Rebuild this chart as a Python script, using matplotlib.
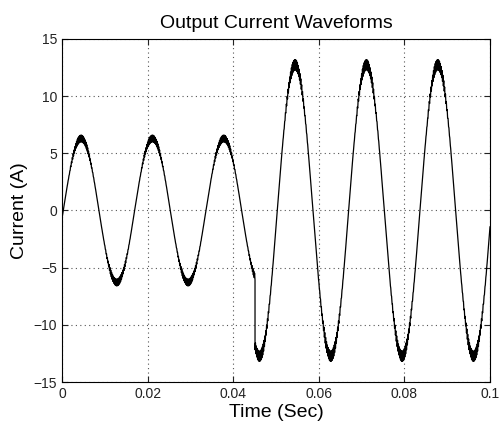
import numpy as np
import matplotlib.pyplot as plt

# waveform: 60 Hz current, amplitude steps up at ~0.045 s
seg_start = [0.0, 0.0451]       # s
seg_amp = [6.3, 12.75]          # A, peak of the fundamental
seg_ripple = [0.3, 0.45]        # A, switching ripple at the peaks
f_line = 60.0                   # Hz
lag = 0.0003                    # s
f_sw = 5000.0                   # Hz, switching ripple

x_ticks = [0, 0.02, 0.04, 0.06, 0.08, 0.1]
x_ticklabels = ["0", "0.02", "0.04", "0.06", "0.08", "0.1"]
y_ticks = [-15, -10, -5, 0, 5, 10, 15]

t = np.linspace(0, 0.1, 40001)
amp = np.where(t < seg_start[1], seg_amp[0], seg_amp[1])
rip = np.where(t < seg_start[1], seg_ripple[0], seg_ripple[1])
s = np.sin(2 * np.pi * f_line * (t - lag))
saw = 2 * np.abs(2 * ((t * f_sw) % 1) - 1) - 1
i_out = amp * s + rip * np.abs(s) ** 2 * saw

plt.rcParams['font.family'] = ['Liberation Sans', 'DejaVu Sans']
fig = plt.figure(figsize=(4.99, 4.26), dpi=100)
ax = fig.add_axes([62 / 499, 1 - 382 / 426, 428 / 499, 343 / 426])

ax.plot(t, i_out, color="black", lw=0.9)

ax.set_xlim(0, 0.1)
ax.set_ylim(-15, 15)
ax.set_xticks(x_ticks)
ax.set_xticklabels(x_ticklabels)
ax.set_yticks(y_ticks)
ax.tick_params(direction="in", top=True, right=True, labelsize=10, length=4, colors="#222222")
ax.grid(True, linestyle=(0, (1, 3)), color="#555555", lw=0.8)
for sp in ax.spines.values():
    sp.set_linewidth(0.8)

ax.set_title("Output Current Waveforms", fontsize=14, pad=8)
ax.set_xlabel("Time (Sec)", fontsize=14, labelpad=2)
ax.set_ylabel("Current (A)", fontsize=14, labelpad=4)

fig.savefig("out.png", dpi=100)
